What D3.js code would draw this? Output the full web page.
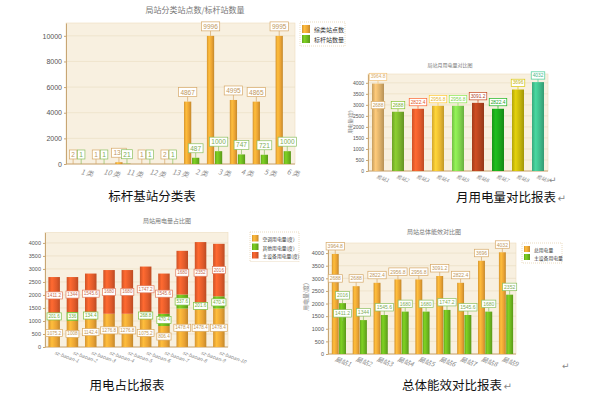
<!DOCTYPE html>
<html>
<head>
<meta charset="utf-8">
<script src="https://cdn.jsdelivr.net/npm/d3@7/dist/d3.min.js"></script>
<style>
  body { margin: 0; background: #fff; }
  svg { display: block; }
</style>
</head>
<body>
<svg id="chart" width="602" height="395"></svg>
<script>
// 局站分类站点数/标杆站数量
const classCats = ['1 类', '10 类', '11 类', '12 类', '13 类', '2 类', '3 类', '4 类', '5 类', '6 类'];
const classSites = [2, 1, 138, 1, 2, 4867, 9996, 4995, 4865, 9995];
const classBench = [1, 1, 21, 1, 1, 487, 1000, 747, 721, 1000];
const classTicks = [0, 2000, 4000, 6000, 8000, 10000];

// 局站月用电量对比图
const stations = ['局站1', '局站2', '局站3', '局站4', '局站5', '局站6', '局站7', '局站8', '局站9'];
const monthPower = [3964.8, 2688, 2822.4, 2956.8, 2956.8, 3091.2, 2822.4, 3696, 4032];
const monthColors = ['#d9ad68', '#78b02a', '#e25a2a', '#e6b630', '#7ed04a', '#b0421e', '#1aa31a', '#c2b30a', '#3fb888'];
const powerTicks = [0, 500, 1000, 1500, 2000, 2500, 3000, 3500, 4000];

// 局站用电量占比图
const shareCats = ['sz-baoan-1', 'sz-baoan-2', 'sz-baoan-3', 'sz-baoan-4', 'sz-baoan-5',
                   'sz-baoan-6', 'sz-baoan-7', 'sz-baoan-8', 'sz-baoan-9', 'sz-baoan-10'];
const airPower = [1075.2, 1008, 1142.4, 1276.8, 1276.8, 1075.2, 806.4, 1478.4, 1478.4, 1478.4];
const otherPower = [201.6, 336, 134.4, 0, 0, 268.8, 470.4, 537.6, 201.6, 470.4];
const mainPower = [1411.2, 1344, 1545.6, 1680, 1680, 1747.2, 1545.6, 1680, 2352, 2016];
const shareNames = ['空调用电量(度)', '其他用电量(度)', '主设备用电量(度)'];

// 局站总体能效对比图
const totalPower = [3964.8, 2688, 2822.4, 2956.8, 2956.8, 3091.2, 2822.4, 3696, 4032];
const equipPower = [2016, 1344, 1545.6, 1680, 1680, 1747.2, 1545.6, 1680, 2352];

const CJK = '"Noto Sans CJK SC", sans-serif';
const NUM = '"Liberation Sans", Arial, sans-serif';
const ORANGE = '#e9a233', GREEN = '#6cb41e', RED = '#e05a2a';

const svg = d3.select('#chart');
const defs = svg.append('defs');

// gradiente horizontal para dar aquele efeito de barra 3D
let gradId = 0;
function barFill(c) {
  const id = 'g' + (gradId++);
  const g = defs.append('linearGradient').attr('id', id)
    .attr('x1', 0).attr('x2', 1).attr('y1', 0).attr('y2', 0);
  g.append('stop').attr('offset', 0).attr('stop-color', d3.color(c).darker(0.25));
  g.append('stop').attr('offset', 0.3).attr('stop-color', d3.color(c).brighter(0.45));
  g.append('stop').attr('offset', 0.7).attr('stop-color', c);
  g.append('stop').attr('offset', 1).attr('stop-color', d3.color(c).darker(0.5));
  return `url(#${id})`;
}

// fundo, grade e eixo y
function frame(x0, x1, y, ticks, fs) {
  const g = svg.append('g');
  const [yb, yt] = y.range();
  g.append('rect').attr('x', x0).attr('y', yt).attr('width', x1 - x0).attr('height', yb - yt)
    .attr('fill', '#f8f0e0').attr('stroke', '#eddcbe').attr('stroke-width', 0.6);
  g.selectAll('line.grid').data(ticks.slice(1)).join('line')
    .attr('x1', x0).attr('x2', x1).attr('y1', d => y(d)).attr('y2', d => y(d))
    .attr('stroke', '#eadbc0').attr('stroke-width', 0.6);
  const ax = g.append('g').attr('transform', `translate(${x0},0)`)
    .call(d3.axisLeft(y).tickValues(ticks).tickFormat(d3.format('d'))
      .tickSize(2).tickPadding(2).tickSizeOuter(0));
  ax.select('.domain').attr('stroke', '#c8a674');
  ax.selectAll('line').attr('stroke', '#c8a674');
  ax.selectAll('text').attr('font-size', fs).attr('font-family', NUM).attr('fill', '#555');
  g.append('line').attr('x1', x0).attr('x2', x1).attr('y1', yb).attr('y2', yb)
    .attr('stroke', '#c8a674').attr('stroke-width', 1);
  return g;
}

// caixinha com o valor
function tag(cx, yy, txt, col, fs, lead, centered) {
  const g = svg.append('g');
  const t = g.append('text').attr('font-size', fs).attr('font-family', NUM)
    .attr('fill', d3.color(col).darker(0.3)).attr('text-anchor', 'middle')
    .attr('dominant-baseline', 'central').text(txt);
  const w = t.node().getComputedTextLength() + fs * 0.6;
  const h = fs + 2.5;
  const by = centered ? yy - h / 2 : yy - lead - h;
  if (!centered) {
    g.insert('line', 'text').attr('x1', cx).attr('x2', cx).attr('y1', yy).attr('y2', yy - lead)
      .attr('stroke', col).attr('stroke-width', 0.7);
  }
  g.insert('rect', 'text').attr('x', cx - w / 2).attr('y', by).attr('width', w).attr('height', h)
    .attr('fill', '#fff').attr('stroke', col).attr('stroke-width', 0.7);
  t.attr('x', cx).attr('y', by + h / 2);
}

function title(x, y, txt, fs) {
  svg.append('text').attr('x', x).attr('y', y).attr('text-anchor', 'middle')
    .attr('font-size', fs).attr('font-family', CJK).attr('fill', '#777').text(txt);
}

function legend(x, y, w, rowH, names, colors, fs) {
  const g = svg.append('g').attr('transform', `translate(${x},${y})`);
  g.append('rect').attr('width', w).attr('height', rowH * names.length + 4)
    .attr('fill', '#fff').attr('stroke', '#eadbc0').attr('stroke-dasharray', '1,1');
  names.forEach((n, i) => {
    const r = g.append('g').attr('transform', `translate(2,${2 + i * rowH})`);
    r.append('rect').attr('width', rowH - 2).attr('height', rowH - 2).attr('y', 1)
      .attr('fill', barFill(colors[i]));
    r.append('text').attr('x', rowH + 2).attr('y', rowH / 2 + 0.5).attr('dominant-baseline', 'central')
      .attr('font-size', fs).attr('font-family', CJK).attr('fill', '#333').text(n);
  });
}

function caption(x, y, txt, ret) {
  const t = svg.append('text').attr('x', x).attr('y', y).attr('text-anchor', 'middle')
    .attr('font-size', 12.5).attr('font-family', CJK).attr('fill', '#111').text(txt);
  if (ret) {
    const bb = t.node().getBBox();
    svg.append('text').attr('x', bb.x + bb.width + 1).attr('y', y).attr('font-size', 10)
      .attr('font-family', '"DejaVu Sans"').attr('fill', '#888').text('↵');
  }
}

function xLabels(x, names, y, fs, dx, angle) {
  names.forEach(n => {
    const cx = x(n) + x.bandwidth() / 2 + dx;
    svg.append('text').attr('transform', `translate(${cx},${y}) rotate(${angle})`)
      .attr('font-size', fs).attr('font-family', CJK).attr('font-style', 'italic')
      .attr('fill', '#888').text(n);
  });
}

// ---------- 1: 局站分类站点数/标杆站数量 ----------
{
  const x = d3.scaleBand().domain(classCats).range([66, 295]);
  const x1 = d3.scaleBand().domain([0, 1]).range([3.5, 18.8]).paddingInner(0.1);
  const y = d3.scaleLinear().domain([0, 11000]).range([164, 23]);
  frame(66, 295, y, classTicks, 7);
  title(195, 13, '局站分类站点数/标杆站数量', 8);
  const fo = barFill(ORANGE), fg = barFill(GREEN);
  classCats.forEach((c, i) => {
    [[classSites[i], fo, '#d6a868'], [classBench[i], fg, '#8cc060']].forEach(([v, f, bc], k) => {
      const bx = x(c) + x1(k);
      svg.append('rect').attr('x', bx).attr('y', y(v)).attr('width', x1.bandwidth())
        .attr('height', y(0) - y(v)).attr('fill', f);
      tag(bx + x1.bandwidth() / 2, y(v), String(v), bc, 6.5, 5, false);
    });
  });
  xLabels(x, classCats, 174, 7, 3, 12);
  legend(300, 22, 45, 10, ['综类站点数', '标杆站数量'], [ORANGE, GREEN], 6);
  caption(152, 201, '标杆基站分类表', false);
}

// ---------- 2: 局站月用电量对比图 ----------
{
  const x = d3.scaleBand().domain(stations).range([368, 548]).paddingInner(0.4).paddingOuter(0.2);
  const y = d3.scaleLinear().domain([0, 4400]).range([171, 74]);
  frame(368, 548, y, powerTicks, 5);
  title(450, 67, '局站月用电量对比图', 5);
  stations.forEach((s, i) => {
    const v = monthPower[i];
    svg.append('rect').attr('x', x(s)).attr('y', y(v)).attr('width', x.bandwidth())
      .attr('height', y(0) - y(v)).attr('fill', barFill(monthColors[i]));
  });
  // rótulo repetido em cima da primeira barra, como no original
  tag(x(stations[0]) + x.bandwidth() / 2, y(monthPower[1]), String(monthPower[1]), '#d9ad68', 4.8, 3, false);
  stations.forEach((s, i) => {
    const v = monthPower[i];
    tag(x(s) + x.bandwidth() / 2, y(v), String(v), d3.color(monthColors[i]).brighter(0.3), 4.8, 3, false);
  });
  svg.append('text').attr('transform', 'translate(352,122) rotate(-90)').attr('text-anchor', 'middle')
    .attr('font-size', 5).attr('font-family', CJK).attr('fill', '#888').text('用电量(度)');
  xLabels(x, stations, 178, 5, -2, 20);
  svg.append('text').attr('x', 549).attr('y', 183).attr('font-size', 9)
    .attr('font-family', '"DejaVu Sans"').attr('fill', '#888').text('↵');
  caption(506, 202, '月用电量对比报表', true);
}

// ---------- 3: 局站用电量占比图 ----------
{
  const x = d3.scaleBand().domain(shareCats).range([45, 228]).paddingInner(0.37).paddingOuter(0.185);
  const y = d3.scaleLinear().domain([0, 4400]).range([347, 232.5]);
  frame(45, 228, y, powerTicks, 5.5);
  title(167, 223, '局站用电量占比图', 6);
  const series = [airPower, otherPower, mainPower];
  const cols = [ORANGE, GREEN, RED];
  const tagCols = ['#d8a860', '#7cc040', '#e07a5a'];
  const fills = cols.map(barFill);
  shareCats.forEach((c, i) => {
    let base = 0;
    series.forEach((s, k) => {
      const v = s[i];
      svg.append('rect').attr('x', x(c)).attr('y', y(base + v)).attr('width', x.bandwidth())
        .attr('height', y(base) - y(base + v)).attr('fill', fills[k]);
      base += v;
    });
  });
  shareCats.forEach((c, i) => {
    let base = 0;
    series.forEach((s, k) => {
      const v = s[i];
      if (v > 0) tag(x(c) + x.bandwidth() / 2, y(base + v / 2), String(v), tagCols[k], 4.6, 0, true);
      base += v;
    });
  });
  xLabels(x, shareCats, 354, 5, 0, 20);
  legend(250, 232, 49, 8.5, shareNames, cols, 4.8);
  caption(127, 390, '用电占比报表', false);
}

// ---------- 4: 局站总体能效对比图 ----------
{
  const x = d3.scaleBand().domain(stations).range([328, 516]);
  const x1 = d3.scaleBand().domain([0, 1]).range([3.8, 18]).paddingInner(0.05);
  const y = d3.scaleLinear().domain([0, 4400]).range([354, 243]);
  frame(328, 516, y, powerTicks, 5.5);
  title(434, 234, '局站总体能效对比图', 6);
  const fo = barFill(ORANGE), fg = barFill(GREEN);
  stations.forEach((s, i) => {
    [[totalPower[i], fo], [equipPower[i], fg]].forEach(([v, f], k) => {
      svg.append('rect').attr('x', x(s) + x1(k)).attr('y', y(v)).attr('width', x1.bandwidth())
        .attr('height', y(0) - y(v)).attr('fill', f);
    });
  });
  const cx0 = x(stations[0]);
  tag(cx0 + x1(0) + x1.bandwidth() / 2, y(totalPower[1]), String(totalPower[1]), '#d6a868', 5, 4, false);
  tag(cx0 + x1(1) + x1.bandwidth() / 2, y(equipPower[1]) + 1, '1411.2', '#8cc060', 5, 4, false);
  stations.forEach((s, i) => {
    tag(x(s) + x1(0) + x1.bandwidth() / 2, y(totalPower[i]), String(totalPower[i]), '#d6a868', 5, 4, false);
    tag(x(s) + x1(1) + x1.bandwidth() / 2, y(equipPower[i]), String(equipPower[i]), '#8cc060', 5, 4, false);
  });
  svg.append('text').attr('transform', 'translate(308,297) rotate(-90)').attr('text-anchor', 'middle')
    .attr('font-size', 6).attr('font-family', CJK).attr('fill', '#888').text('用电量(度)');
  xLabels(x, stations, 361, 6.5, -4, 20);
  legend(522, 243, 40, 8, ['总用电量', '主设备用电量'], [ORANGE, GREEN], 4.8);
  svg.append('text').attr('x', 562).attr('y', 369).attr('font-size', 9)
    .attr('font-family', '"DejaVu Sans"').attr('fill', '#888').text('↵');
  caption(452, 390, '总体能效对比报表', true);
}
</script>
</body>
</html>
